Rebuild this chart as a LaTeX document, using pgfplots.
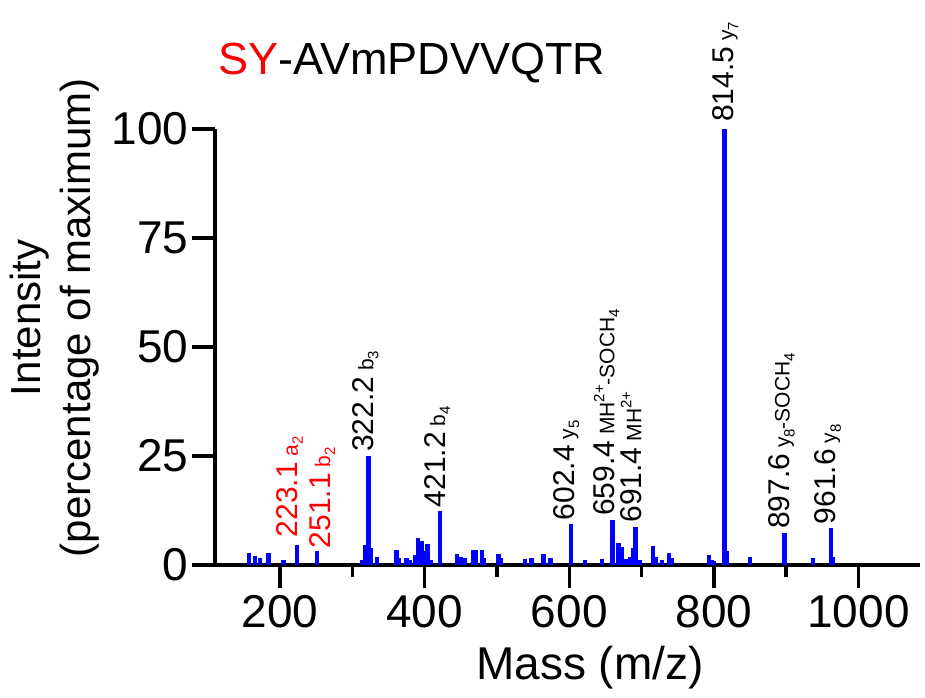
\documentclass[border=0pt]{standalone}
\usepackage{fontspec}
\setmainfont{Liberation Sans}
\usepackage{pgfplots}
\pgfplotsset{compat=1.18}
\definecolor{peak}{RGB}{0,0,255}
\tikzset{lbl/.style={rotate=90, anchor=base west, inner sep=0pt}}

\newcommand{\fs}[1]{\fontsize{#1}{#1}\selectfont}
\newcommand{\lo}[1]{\raisebox{-5pt}{\fs{15}#1}}
\newcommand{\hi}[1]{\raisebox{10pt}{\fs{15}#1}}
\newcommand{\pk}[2]{{\fs{30}#1}\hspace{6pt}{\fs{21}#2}}

\begin{document}
\begin{tikzpicture}
\useasboundingbox (-215pt,-132pt) rectangle (710pt,565pt);
\begin{axis}[
  scale only axis, width=705pt, height=436pt,
  xmin=110, xmax=1085, ymin=0, ymax=100,
  axis x line*=bottom, axis y line*=left,
  axis line style={line width=4pt},
  tick align=outside,
  xtick={200,400,600,800,1000}, minor x tick num=1,
  ytick={0,25,50,75,100},
  major tick length=23pt, minor tick length=12pt,
  major tick style={black, line width=3.5pt},
  minor tick style={black, line width=3.5pt},
  tick label style={font=\fs{46}},
  xticklabel style={yshift=-4pt},
  /pgf/number format/assume math mode=true,
  /pgf/number format/1000 sep={},
  xlabel={Mass (m/z)},
  xlabel style={font=\fs{46}, at={(axis description cs:0.532,-0.236)}, anchor=center},
  ylabel={Intensity\\(percentage of maximum)},
  ylabel style={font=\fontsize{42}{50}\selectfont, align=center, at={(axis description cs:-0.227,0.567)}, anchor=center},
  clip=false,
]
\addplot[ycomb, peak, line width=4.5pt, mark=none] coordinates {
(157,2.8) (165,2.1) (172,1.5) (184,2.7) (205,1.1) (223.1,4.7) (251.1,3.1)
(313,1.1) (318,4.6) (322.2,25) (325,3.8) (334,1.8)
(361,3.4) (364,1.5) (375,1.5) (380,1.2) (387,2.3) (391,6.3) (396,5.4) (399,3.1) (404,4.8) (408,1.1)
(421.2,12.5) (445,2.5) (450,1.8) (456,1.5) (467,3.4) (470,3.4) (479,3.4) (482,1.5)
(502,2.5) (505,1.5) (539,1.3) (548,1.5) (564,2.5) (574,1.5)
(602.4,9.3) (622,1.1) (645,1.3) (659.4,10.3) (668,5.1) (672,4.2) (679,1.3) (684,1.8) (689,3.8) (691.4,8.8) (697,1.1)
(716,4.4) (719,1.9) (728,1.1) (738,2.8) (741,1.5)
(793,2.2) (797,1.2) (800,1.0) (814.5,100) (818,3.1) (850,1.9)
(897.6,7.3) (937,1.5) (961.6,8.4) (965,1.9)
};
\node[lbl, red] at ([xshift=1pt,yshift=7pt]axis cs:223.1,4.7) {\pk{223.1}{a\lo{2}}};
\node[lbl, red] at ([xshift=13pt,yshift=3pt]axis cs:251.1,3.1) {\pk{251.1}{b\lo{2}}};
\node[lbl] at ([xshift=5pt,yshift=4pt]axis cs:322.2,25) {\pk{322.2}{b\lo{3}}};
\node[lbl] at ([xshift=5pt,yshift=3pt]axis cs:421.2,12.5) {\pk{421.2}{b\lo{4}}};
\node[lbl] at ([xshift=3pt,yshift=4pt]axis cs:602.4,9.3) {\pk{602.4}{y\lo{5}}};
\node[lbl] at ([xshift=2pt,yshift=4pt]axis cs:659.4,10.3) {\pk{659.4}{MH\hi{2+}-SOCH\lo{4}}};
\node[lbl] at ([xshift=6pt,yshift=4pt]axis cs:691.4,8.8) {\pk{691.4}{MH\hi{2+}}};
\node[lbl] at ([xshift=9pt,yshift=7pt]axis cs:814.5,100) {\pk{814.5}{y\lo{7}}};
\node[lbl] at ([xshift=5pt,yshift=4pt]axis cs:897.6,7.3) {\pk{897.6}{y\lo{8}-SOCH\lo{4}}};
\node[lbl] at ([xshift=5pt,yshift=4pt]axis cs:961.6,8.4) {\pk{961.6}{y\lo{8}}};
\node[anchor=base, font=\fs{45}] at (axis description cs:0.2794,1.124) {\textcolor{red}{SY}-AVmPDVVQTR};
\end{axis}
\end{tikzpicture}
\end{document}
